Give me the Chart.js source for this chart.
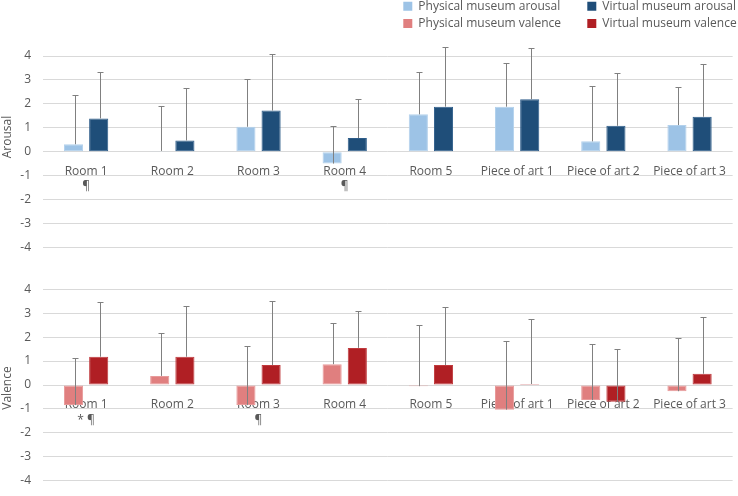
<!DOCTYPE html>
<html>
<head>
<meta charset="utf-8">
<script src="https://cdn.jsdelivr.net/npm/chart.js@4.4.1/dist/chart.umd.min.js"></script>
<style>
  html, body { margin: 0; padding: 0; background: #ffffff; overflow: hidden; }
  #wrap { position: relative; width: 738px; height: 496px; overflow: hidden; }
  canvas { position: absolute; display: block; }
</style>
</head>
<body>
<div id="wrap">
  <canvas id="top" width="738" height="270" style="left:0;top:0"></canvas>
  <canvas id="bottom" width="738" height="230" style="left:0;top:270px"></canvas>
  <canvas id="leg1" width="185" height="110" style="left:398px;top:-5px"></canvas>
  <canvas id="leg2" width="170" height="110" style="left:582px;top:-5px"></canvas>
</div>
<script>
// ---- Data ----
const arousalLabels = [["Room 1", "¶"], "Room 2", "Room 3", ["Room 4", "¶"], "Room 5", "Piece of art 1", "Piece of art 2", "Piece of art 3"];
const valenceLabels = [["Room 1", "* ¶"], "Room 2", ["Room 3", "¶"], "Room 4", "Room 5", "Piece of art 1", "Piece of art 2", "Piece of art 3"];
const yTicks = [-4, -3, -2, -1, 0, 1, 2, 3, 4];

const physicalArousal = [0.31, 0.03, 1.04, -0.50, 1.56, 1.88, 0.43, 1.11];
const physicalArousalSD = [2.05, 1.86, 2.00, 1.57, 1.77, 1.81, 2.32, 1.58];
const virtualArousal = [1.39, 0.47, 1.72, 0.57, 1.88, 2.19, 1.08, 1.46];
const virtualArousalSD = [1.94, 2.20, 2.36, 1.65, 2.48, 2.13, 2.20, 2.21];

const physicalValence = [-0.84, 0.38, -0.84, 0.87, -0.05, -1.03, -0.63, -0.26];
const physicalValenceSD = [1.97, 1.78, 2.47, 1.71, 2.55, 2.86, 2.34, 2.21];
const virtualValence = [1.18, 1.18, 0.83, 1.55, 0.83, 0.04, -0.70, 0.47];
const virtualValenceSD = [2.27, 2.10, 2.68, 1.53, 2.42, 2.71, 2.20, 2.39];

const seriesNames = ["Physical museum arousal", "Virtual museum arousal", "Physical museum valence", "Virtual museum valence"];
const seriesColors = ["#9dc3e6", "#1f4e79", "#e07f7f", "#b01f24"];
const seriesBorders = ["#b3d1ec", "#2e5d8a", "#e89a9a", "#c03a3d"];

Chart.defaults.font.family = '"Open Sans", "Liberation Sans", sans-serif';
Chart.defaults.color = '#595959';

// ---- Plugins ----
const errorBars = {
  id: 'errorBars',
  afterDatasetsDraw(chart) {
    const ctx = chart.ctx;
    chart.data.datasets.forEach((ds, i) => {
      if (!ds.errors) return;
      const meta = chart.getDatasetMeta(i);
      const yScale = chart.scales[meta.yAxisID];
      meta.data.forEach((bar, j) => {
        const v = ds.data[j];
        const e = ds.errors[j];
        const x = Math.round(bar.x + 1) + 0.5;
        const y0 = yScale.getPixelForValue(v);
        const y1 = Math.round(yScale.getPixelForValue(v + e)) + 0.5;
        ctx.save();
        ctx.strokeStyle = '#808080';
        ctx.lineWidth = 1;
        ctx.beginPath();
        ctx.moveTo(x, y0);
        ctx.lineTo(x, y1);
        ctx.moveTo(x - 3, y1);
        ctx.lineTo(x + 3, y1);
        ctx.stroke();
        ctx.restore();
      });
    });
  }
};

const sideTitle = {
  id: 'sideTitle',
  afterDraw(chart, args, opts) {
    if (!opts.text) return;
    const ctx = chart.ctx;
    ctx.save();
    ctx.translate(opts.x, opts.y);
    ctx.rotate(-Math.PI / 2);
    ctx.font = '12px "Open Sans", sans-serif';
    ctx.fillStyle = '#595959';
    ctx.textAlign = 'center';
    ctx.textBaseline = 'middle';
    ctx.fillText(opts.text, 0, 0);
    ctx.restore();
  }
};

function barDataset(label, data, errors, idx) {
  return {
    label: label,
    data: data,
    errors: errors,
    backgroundColor: seriesColors[idx],
    borderColor: seriesBorders[idx],
    borderWidth: 1,
    borderSkipped: false,
    categoryPercentage: 0.584,
    barPercentage: 0.76
  };
}

function panel(id, labels, datasets, title, titleY, padTop, padBottom) {
  return new Chart(document.getElementById(id), {
    type: 'bar',
    data: { labels: labels, datasets: datasets },
    options: {
      responsive: false,
      animation: false,
      layout: { padding: { top: padTop, bottom: padBottom, left: 0, right: 1 } },
      plugins: {
        legend: { display: false },
        tooltip: { enabled: false },
        sideTitle: { text: title, x: 8, y: titleY }
      },
      scales: {
        x: {
          type: 'category',
          position: { y: 0 },
          offset: true,
          z: 1,
          grid: { display: false, drawTicks: false },
          border: { display: false },
          ticks: {
            padding: 12,
            maxRotation: 0,
            autoSkip: false,
            color: '#595959',
            font: { size: 12, lineHeight: 1.3 }
          }
        },
        y: {
          min: -4,
          max: 4,
          afterFit(axis) { axis.width = 43; },
          afterBuildTicks(axis) { axis.ticks = yTicks.map(v => ({ value: v })); },
          grid: { color: '#d9d9d9', lineWidth: 1, drawTicks: false },
          border: { display: false },
          ticks: { padding: 12, color: '#595959', font: { size: 12 } }
        }
      }
    },
    plugins: [errorBars, sideTitle]
  });
}

panel('top', arousalLabels, [
  barDataset(seriesNames[0], physicalArousal, physicalArousalSD, 0),
  barDataset(seriesNames[1], virtualArousal, virtualArousalSD, 1)
], 'Arousal', 137, 56, 22.7);

panel('bottom', valenceLabels, [
  barDataset(seriesNames[2], physicalValence, physicalValenceSD, 2),
  barDataset(seriesNames[3], virtualValence, virtualValenceSD, 3)
], 'Valence', 118, 16, 10.7);

function legendChart(id, idxs) {
  return new Chart(document.getElementById(id), {
    type: 'bar',
    data: {
      labels: [],
      datasets: idxs.map(i => ({ label: seriesNames[i], data: [], backgroundColor: seriesColors[i], borderWidth: 0 }))
    },
    options: {
      responsive: false,
      animation: false,
      layout: { padding: 0 },
      scales: { x: { display: false }, y: { display: false } },
      plugins: {
        tooltip: { enabled: false },
        legend: {
          position: 'top',
          align: 'start',
          maxHeight: 80,
          labels: { boxWidth: 9, boxHeight: 9, padding: 5.3, color: '#595959', font: { size: 12 } }
        }
      }
    }
  });
}
legendChart('leg1', [0, 2]);
legendChart('leg2', [1, 3]);
</script>
</body>
</html>
